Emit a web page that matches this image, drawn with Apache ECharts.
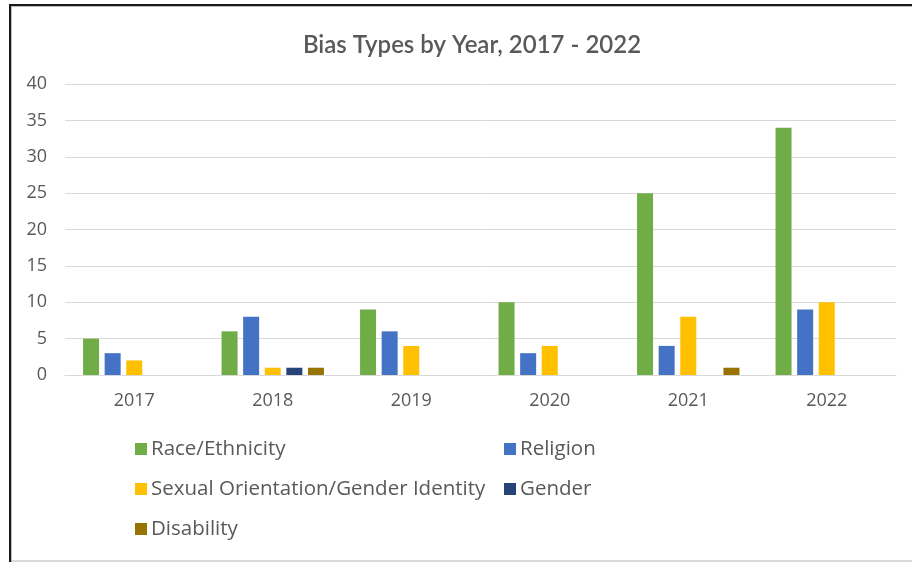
<!DOCTYPE html>
<html>
<head>
<meta charset="utf-8">
<script src="https://cdn.jsdelivr.net/npm/echarts@6/dist/echarts.min.js"></script>
<style>
html,body{margin:0;padding:0;background:#fff;}
#chart{width:912px;height:562px;}
</style>
</head>
<body>
<div id="chart"></div>
<script>
const titleText = 'Bias Types by Year, 2017 - 2022';
const years = ['2017', '2018', '2019', '2020', '2021', '2022'];
const seriesNames = ['Race/Ethnicity', 'Religion', 'Sexual Orientation/Gender Identity', 'Gender', 'Disability'];
const raceEthnicity = [5, 6, 9, 10, 25, 34];
const religion = [3, 8, 6, 3, 4, 9];
const sexualOrientation = [2, 1, 4, 4, 8, 10];
const gender = [0, 1, 0, 0, 0, 0];
const disability = [0, 1, 0, 0, 1, 0];
const colors = ['#70AD47', '#4472C4', '#FFC000', '#264478', '#997300'];

const seriesData = [raceEthnicity, religion, sexualOrientation, gender, disability];
const titleFont = 'Lato, sans-serif';
const font = '"Open Sans", "Noto Sans", sans-serif';

const chart = echarts.init(document.getElementById('chart'));
chart.setOption({
  animation: false,
  backgroundColor: '#fff',
  color: colors,
  title: {
    text: titleText,
    left: 467, top: 28, textAlign: 'center',
    textStyle: { fontFamily: titleFont, fontSize: 24, fontWeight: 600, color: '#595959' }
  },
  graphic: [
    { type: 'rect', shape: { x: 9, y: 4, width: 903, height: 2 }, style: { fill: '#1a1a1a' }, silent: true },
    { type: 'rect', shape: { x: 9, y: 4, width: 2, height: 558 }, style: { fill: '#1a1a1a' }, silent: true },
    { type: 'rect', shape: { x: 11, y: 6, width: 901, height: 1 }, style: { fill: '#bbbbbb' }, silent: true },
    { type: 'rect', shape: { x: 11, y: 6, width: 1, height: 556 }, style: { fill: '#bbbbbb' }, silent: true },
    { type: 'rect', shape: { x: 12, y: 560, width: 900, height: 2 }, style: { fill: '#d9d9d9' }, silent: true }
  ],
  legend: [
    {
      data: [seriesNames[0], seriesNames[2], seriesNames[4]],
      orient: 'vertical', left: 130, top: 433,
      itemWidth: 12, itemHeight: 12, itemGap: 18, icon: 'rect',
      textStyle: { fontFamily: font, fontSize: 20.5, color: '#595959', lineHeight: 22, padding: [0, 0, 0, -1] }
    },
    {
      data: [seriesNames[1], seriesNames[3]],
      orient: 'vertical', left: 499, top: 433,
      itemWidth: 12, itemHeight: 12, itemGap: 18, icon: 'rect',
      textStyle: { fontFamily: font, fontSize: 20.5, color: '#595959', lineHeight: 22, padding: [0, 0, 0, -1] }
    }
  ],
  grid: { left: 65, right: 16, top: 84, bottom: 187, containLabel: false },
  xAxis: {
    type: 'category', data: years,
    axisLine: { lineStyle: { color: '#d9d9d9', width: 1 } },
    axisTick: { show: false },
    axisLabel: { fontFamily: font, fontSize: 18, color: '#595959', margin: 17 }
  },
  yAxis: {
    type: 'value', min: 0, max: 40, interval: 5,
    axisLine: { show: false }, axisTick: { show: false },
    splitLine: { lineStyle: { color: '#d9d9d9', width: 1 } },
    axisLabel: { fontFamily: font, fontSize: 18, color: '#595959', margin: 18 }
  },
  series: seriesNames.map((name, i) => ({
    name, type: 'bar', data: seriesData[i],
    barWidth: 16, barGap: '35%',
    itemStyle: { color: colors[i] }
  }))
});
</script>
</body>
</html>
